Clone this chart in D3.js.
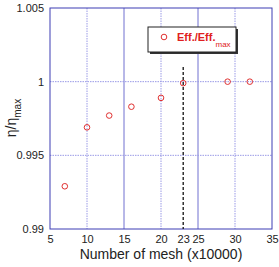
<!DOCTYPE html>
<html>
<head>
<style>
  body { margin: 0; background: #fff; }
  text { font-family: "Liberation Sans", Arial, sans-serif; }
</style>
</head>
<body>
<svg id="chart" width="279" height="267"></svg>
<script src="https://cdn.jsdelivr.net/npm/d3@7"></script>
<script>
// mesh count (x10000) vs normalised efficiency
const meshCounts = [7, 10, 13, 16, 20, 23, 29, 32]
const effRatio = [0.9929, 0.9969, 0.9977, 0.9983, 0.9989, 0.9999, 1.0, 1.0]
const xTicks = [5, 10, 15, 20, 23, 25, 30, 35]
const yTicks = [0.99, 0.995, 1, 1.005]
const chosenMesh = 23

const svg = d3.select("#chart")
const plotL = 50, plotR = 272, plotT = 8, plotB = 229

const x = d3.scaleLinear().domain([5, 35]).range([plotL, plotR])
const y = d3.scaleLinear().domain([0.99, 1.005]).range([plotB, plotT])

// grid
const grid = svg.append("g")
grid.selectAll("line.vx").data([10, 15, 20, 25, 30])
  .enter().append("line")
  .attr("x1", d => x(d)).attr("x2", d => x(d))
  .attr("y1", plotT).attr("y2", plotB)
  .attr("stroke", d => d % 10 == 5 ? "#7070d0" : "#9a9ae6")
  .attr("stroke-width", 1)
  .attr("stroke-dasharray", d => d % 10 == 5 ? null : "1.5,1")
grid.selectAll("line.hy").data([0.995, 1])
  .enter().append("line")
  .attr("x1", plotL).attr("x2", plotR)
  .attr("y1", d => y(d)).attr("y2", d => y(d))
  .attr("stroke", "#9a9ae6")
  .attr("stroke-dasharray", "1.5,1")

// frame
svg.append("rect")
  .attr("x", plotL).attr("y", plotT)
  .attr("width", plotR - plotL).attr("height", plotB - plotT)
  .attr("fill", "none").attr("stroke", "#3c3cb4").attr("stroke-width", 1)

// axes
const xAxis = svg.append("g").attr("transform", `translate(0,${plotB})`)
  .call(d3.axisBottom(x).tickValues(xTicks).tickSize(0).tickPadding(6).tickFormat(d3.format("d")))
xAxis.select(".domain").remove()
xAxis.selectAll("text").attr("font-size", 11).attr("fill", "#222")

const yAxis = svg.append("g").attr("transform", `translate(${plotL},0)`)
  .call(d3.axisLeft(y).tickValues(yTicks).tickSize(0).tickPadding(6).tickFormat(d => d == 1 ? "1" : d3.format(".3f")(d).replace(/0+$/, "")))
yAxis.select(".domain").remove()
yAxis.selectAll("text").attr("font-size", 11).attr("fill", "#222")

// dashed marker line at chosen mesh
svg.append("line")
  .attr("x1", x(chosenMesh)).attr("x2", x(chosenMesh))
  .attr("y1", 67).attr("y2", plotB)
  .attr("stroke", "#111").attr("stroke-width", 1.3)
  .attr("stroke-dasharray", "3,2")

// points
svg.selectAll("circle.pt").data(meshCounts)
  .enter().append("circle")
  .attr("cx", d => x(d))
  .attr("cy", (d, i) => y(effRatio[i]))
  .attr("r", 2.8)
  .attr("fill", "none").attr("stroke", "#e03030").attr("stroke-width", 1)

// legend
const lg = svg.append("g")
lg.append("rect").attr("x", 150).attr("y", 29).attr("width", 88).attr("height", 25).attr("fill", "#333")
lg.append("rect").attr("x", 148).attr("y", 27).attr("width", 88).attr("height", 25)
  .attr("fill", "#fff").attr("stroke", "#222").attr("stroke-width", 1)
lg.append("circle").attr("cx", 164).attr("cy", 37).attr("r", 2.8)
  .attr("fill", "none").attr("stroke", "#e03030")
const lt = lg.append("text").attr("x", 177).attr("y", 41)
  .attr("fill", "#e02020").attr("font-size", 11).attr("font-weight", "bold")
lt.append("tspan").text("Eff./Eff.")
lt.append("tspan").attr("dy", 6).attr("font-size", 8).attr("font-weight", "normal").text("max")

// axis labels
svg.append("text").attr("x", 161).attr("y", 259)
  .attr("text-anchor", "middle").attr("font-size", 14).attr("fill", "#222")
  .text("Number of mesh (x10000)")
const yl = svg.append("text").attr("transform", "translate(16,118) rotate(-90)")
  .attr("text-anchor", "middle").attr("font-size", 14).attr("fill", "#222")
yl.append("tspan").text("η/η")
yl.append("tspan").attr("dy", 5).attr("font-size", 10).text("max")
</script>
</body>
</html>
